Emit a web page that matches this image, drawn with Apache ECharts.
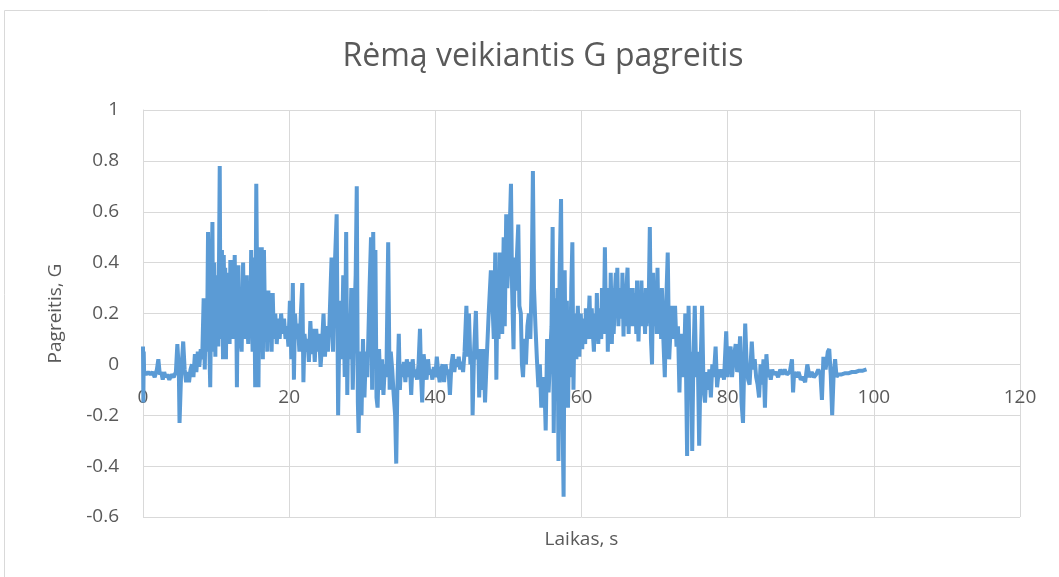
<!DOCTYPE html>
<html>
<head>
<meta charset="utf-8">
<script src="https://cdn.jsdelivr.net/npm/echarts@6/dist/echarts.min.js"></script>
<style>
  html, body { margin: 0; padding: 0; background: #fff; }
  #chart { width: 1059px; height: 577px; }
</style>
</head>
<body>
<div id="chart"></div>
<script>
const titleText = "Rėmą veikiantis G pagreitis";
const xName = "Laikas, s";
const yName = "Pagreitis, G";
const xRange = [0, 120, 20];
const yRange = [-0.6, 1, 0.2];

// [laikas s, pagreitis G]
const accel = [
  [0.0, 0.07], [0.05, -0.15], [0.1, 0.05], [0.15, -0.03], [0.4, -0.04], [0.7, -0.03], [1.0, -0.04],
  [1.3, -0.03], [1.6, -0.05], [1.9, -0.02], [2.1, 0.02], [2.3, -0.04], [2.5, -0.03], [2.7, -0.06],
  [2.9, -0.03], [3.1, -0.05], [3.3, -0.04], [3.6, -0.06], [3.9, -0.04], [4.2, -0.05], [4.5, -0.03],
  [4.7, 0.08], [4.9, -0.02], [5.0, -0.23], [5.2, -0.05], [5.5, 0.09], [5.7, -0.02], [5.9, -0.07],
  [6.1, -0.03], [6.3, -0.07], [6.5, -0.02], [6.7, 0.0], [6.9, -0.05], [7.1, 0.04], [7.3, -0.03],
  [7.5, 0.05], [7.7, -0.01], [7.9, 0.06], [8.1, 0.02], [8.3, 0.26], [8.45, -0.02], [8.6, 0.24],
  [8.75, 0.05], [8.9, 0.52], [9.05, 0.1], [9.2, -0.09], [9.35, 0.3], [9.5, 0.56], [9.6, 0.05],
  [9.75, 0.4], [9.9, 0.03], [10.0, 0.35], [10.1, 0.15], [10.2, 0.3], [10.3, 0.07], [10.4, 0.4],
  [10.5, 0.78], [10.6, 0.1], [10.7, 0.35], [10.8, 0.45], [10.9, 0.15], [10.95, 0.02], [11.05, 0.43],
  [11.15, 0.2], [11.25, 0.38], [11.35, 0.02], [11.45, 0.3], [11.55, 0.15], [11.65, 0.36], [11.75, 0.2],
  [11.85, 0.08], [11.95, 0.41], [12.05, 0.2], [12.15, 0.35], [12.25, 0.41], [12.35, 0.1], [12.45, 0.3],
  [12.55, 0.43], [12.65, 0.15], [12.75, 0.25], [12.85, -0.09], [12.95, 0.2], [13.05, 0.39], [13.15, 0.15],
  [13.25, 0.3], [13.35, 0.1], [13.5, 0.05], [13.6, 0.25], [13.7, 0.4], [13.8, 0.2], [13.9, 0.35],
  [14.0, 0.1], [14.1, 0.25], [14.2, 0.35], [14.3, 0.15], [14.4, 0.08], [14.5, 0.25], [14.6, 0.3],
  [14.7, 0.12], [14.8, 0.45], [14.9, 0.2], [15.0, 0.05], [15.1, 0.3], [15.2, 0.42],
  [15.35, -0.09], [15.5, 0.71], [15.65, 0.2], [15.8, -0.09], [15.95, 0.46], [16.1, 0.05], [16.25, 0.46],
  [16.4, 0.02], [16.55, 0.45], [16.7, 0.15], [16.85, 0.28], [17.0, 0.05], [17.15, 0.29], [17.3, 0.15],
  [17.45, 0.28], [17.6, 0.05], [17.75, 0.28], [17.9, 0.1], [18.1, 0.2], [18.3, 0.08], [18.5, 0.18],
  [18.7, 0.1], [18.9, 0.2], [19.1, 0.12], [19.3, 0.18], [19.5, 0.1], [19.7, 0.15], [19.9, 0.07],
  [20.1, 0.25], [20.3, 0.02], [20.5, 0.32], [20.65, -0.06], [20.8, 0.2], [21.0, 0.1], [21.2, 0.16],
  [21.4, 0.05], [21.6, 0.2], [21.8, 0.32], [21.95, -0.07], [22.1, 0.12], [22.3, 0.05], [22.5, 0.1],
  [22.7, 0.01], [22.9, 0.17], [23.1, 0.04], [23.3, 0.14], [23.5, 0.01], [23.7, 0.14], [23.9, 0.05],
  [24.1, 0.12], [24.3, -0.01], [24.5, 0.08], [24.7, 0.2], [24.9, 0.03], [25.1, 0.15], [25.3, 0.05],
  [25.5, 0.15], [25.8, 0.42], [26.0, 0.05], [26.2, 0.35], [26.5, 0.59], [26.7, -0.2], [26.85, 0.1],
  [27.0, 0.25], [27.2, 0.02], [27.4, 0.35], [27.6, -0.05], [27.8, 0.52], [27.95, -0.12], [28.1, 0.2],
  [28.3, 0.02], [28.5, 0.3], [28.7, -0.1], [28.9, 0.15], [29.1, 0.35], [29.25, 0.7], [29.4, -0.15],
  [29.5, -0.27], [29.7, 0.05], [29.9, -0.2], [30.1, 0.1], [30.3, -0.13], [30.5, 0.05], [30.7, -0.05],
  [31.0, 0.3], [31.2, 0.5], [31.35, -0.1], [31.5, 0.52], [31.65, 0.05], [31.8, 0.45], [31.95, -0.13],
  [32.1, -0.17], [32.3, 0.06], [32.5, -0.1], [32.7, 0.02], [32.9, -0.12], [33.1, 0.0], [33.3, -0.05],
  [33.55, 0.48], [33.75, -0.1], [33.9, 0.05], [34.1, -0.02], [34.3, -0.12], [34.5, -0.2], [34.65, -0.39],
  [34.8, -0.1], [35.0, 0.12], [35.15, -0.1], [35.3, 0.0], [35.5, -0.05], [35.7, 0.01], [35.9, -0.07],
  [36.1, 0.02], [36.3, -0.05], [36.5, 0.01], [36.7, -0.12], [36.9, 0.02], [37.1, -0.05], [37.3, -0.02],
  [37.5, -0.06], [37.7, 0.0], [37.9, 0.14], [38.05, -0.05], [38.2, -0.15], [38.4, 0.04], [38.6, -0.02],
  [38.8, -0.06], [39.0, 0.02], [39.2, -0.04], [39.4, -0.02], [39.6, -0.06], [39.8, -0.01], [40.0, -0.05],
  [40.2, 0.03], [40.4, -0.03], [40.6, -0.07], [40.8, -0.02], [41.0, 0.0], [41.2, -0.07], [41.4, 0.0],
  [41.6, -0.04], [41.8, -0.02], [42.0, -0.12], [42.2, 0.0], [42.4, 0.04], [42.6, -0.03], [42.8, 0.02],
  [43.0, -0.01], [43.2, 0.03], [43.4, -0.02], [43.6, 0.01], [43.8, -0.03], [44.0, 0.05], [44.25, 0.23],
  [44.45, 0.03], [44.6, 0.2], [44.8, 0.0], [45.0, 0.05], [45.1, -0.2], [45.3, 0.05], [45.55, 0.21],
  [45.7, 0.02], [45.9, 0.04], [46.0, -0.13], [46.2, 0.06], [46.4, -0.1], [46.6, 0.06], [46.8, -0.15],
  [47.0, 0.0], [47.3, 0.2], [47.6, 0.37], [47.8, 0.25], [48.0, 0.1], [48.2, 0.44], [48.35, -0.06],
  [48.5, 0.3], [48.65, 0.1], [48.8, 0.44], [49.0, 0.25], [49.15, 0.12], [49.35, 0.5], [49.5, 0.15],
  [49.7, 0.59], [49.85, 0.3], [50.1, 0.45], [50.35, 0.71], [50.5, 0.3], [50.7, 0.06], [50.85, 0.42],
  [51.0, 0.29], [51.2, 0.45], [51.35, 0.55], [51.5, 0.23], [51.7, 0.2], [51.85, 0.0], [52.0, -0.05],
  [52.2, 0.1], [52.4, 0.0], [52.6, 0.15], [52.8, 0.2], [53.0, 0.1], [53.2, 0.35], [53.35, 0.76],
  [53.5, 0.3], [53.7, 0.15], [53.9, 0.02], [54.1, -0.09], [54.3, 0.0], [54.5, -0.17], [54.7, -0.1],
  [54.9, -0.05], [55.1, -0.26], [55.3, 0.1], [55.5, -0.11], [55.7, 0.03], [55.9, 0.15], [56.05, 0.54],
  [56.2, -0.27], [56.4, 0.26], [56.55, 0.0], [56.7, 0.3], [56.85, -0.38], [57.0, 0.35], [57.2, 0.65],
  [57.4, -0.2], [57.55, -0.52], [57.7, 0.37], [57.85, -0.09], [58.0, 0.25], [58.15, -0.17], [58.3, 0.1],
  [58.45, -0.05], [58.6, 0.3], [58.75, 0.48], [58.9, -0.1], [59.0, 0.1], [59.1, 0.2], [59.2, 0.1],
  [59.3, 0.02], [59.4, 0.15], [59.5, 0.23], [59.6, 0.1], [59.7, 0.03], [59.8, 0.15], [59.9, 0.2],
  [60.0, 0.12], [60.1, 0.06], [60.2, 0.15], [60.3, 0.18], [60.4, 0.1], [60.5, 0.08], [60.6, 0.22],
  [60.7, 0.2], [60.8, 0.12], [60.9, 0.1], [61.0, 0.2], [61.1, 0.27], [61.2, 0.15], [61.3, 0.1],
  [61.4, 0.22], [61.5, 0.15], [61.6, 0.1], [61.7, 0.05], [61.8, 0.2], [61.9, 0.18], [62.0, 0.12],
  [62.1, 0.28], [62.2, 0.15], [62.3, 0.08], [62.4, 0.22], [62.5, 0.2], [62.6, 0.12], [62.7, 0.1],
  [62.8, 0.3], [62.9, 0.25], [63.05, 0.12], [63.2, 0.46], [63.3, 0.25], [63.4, 0.15], [63.5, 0.3],
  [63.6, 0.05], [63.7, 0.2], [63.8, 0.3], [63.9, 0.15], [64.0, 0.36], [64.1, 0.2], [64.15, 0.08],
  [64.3, 0.3], [64.4, 0.12], [64.5, 0.2], [64.6, 0.3], [64.7, 0.36], [64.8, 0.2], [64.9, 0.38],
  [65.05, 0.15], [65.15, 0.28], [65.25, 0.2], [65.4, 0.3], [65.5, 0.18], [65.6, 0.36], [65.75, 0.11],
  [65.85, 0.3], [65.95, 0.25], [66.05, 0.15], [66.15, 0.3], [66.3, 0.38], [66.45, 0.12], [66.55, 0.25],
  [66.65, 0.3], [66.75, 0.15], [66.9, 0.22], [67.0, 0.3], [67.1, 0.15], [67.2, 0.2], [67.3, 0.28],
  [67.4, 0.22], [67.5, 0.12], [67.6, 0.33], [67.7, 0.2], [67.8, 0.09], [67.9, 0.2], [68.0, 0.25],
  [68.1, 0.15], [68.2, 0.33], [68.3, 0.2], [68.4, 0.15], [68.5, 0.28], [68.6, 0.2], [68.7, 0.12],
  [68.8, 0.3], [68.9, 0.15], [69.0, 0.2], [69.1, 0.3], [69.2, 0.25],
  [69.35, 0.54], [69.5, 0.1], [69.65, 0.0], [69.8, 0.36], [70.0, 0.15], [70.1, 0.3], [70.2, 0.25],
  [70.3, 0.12], [70.4, 0.38], [70.5, 0.2], [70.6, 0.12], [70.7, 0.28], [70.8, 0.2], [70.9, 0.1],
  [71.0, 0.3], [71.1, 0.2], [71.2, 0.1], [71.4, -0.05], [71.6, 0.25],
  [71.8, 0.44], [72.0, 0.02], [72.2, 0.15], [72.4, 0.23], [72.6, 0.1], [72.8, 0.23], [73.0, 0.07],
  [73.2, 0.15], [73.4, -0.11], [73.6, 0.12], [73.8, 0.05], [74.0, -0.05], [74.2, 0.2], [74.45, -0.36],
  [74.65, 0.23], [74.85, -0.1], [75.0, 0.05], [75.15, -0.34], [75.3, 0.0], [75.5, 0.23], [75.7, -0.05],
  [75.9, 0.05], [76.1, -0.32], [76.3, 0.0], [76.5, 0.23], [76.7, -0.1], [76.9, -0.15], [77.1, -0.03],
  [77.3, -0.1], [77.5, -0.02], [77.7, -0.13], [77.9, 0.0], [78.1, -0.05], [78.35, 0.07], [78.55, -0.09],
  [78.8, -0.02], [79.0, -0.05], [79.3, -0.02], [79.5, -0.06], [79.8, 0.13], [80.0, -0.05], [80.2, 0.05],
  [80.4, 0.07], [80.6, -0.05], [80.8, 0.02], [81.1, 0.08], [81.3, -0.03], [81.5, 0.0], [81.7, 0.11],
  [81.9, -0.15], [82.1, -0.23], [82.3, 0.05], [82.4, 0.16], [82.6, 0.0], [82.8, -0.06], [83.0, -0.08],
  [83.3, 0.09], [83.5, -0.02], [83.7, 0.02], [83.9, -0.05], [84.1, -0.08], [84.3, -0.13], [84.5, 0.0],
  [84.7, -0.08], [84.9, 0.02], [85.1, -0.17], [85.3, 0.04], [85.5, -0.05], [85.7, -0.02], [85.9, -0.06],
  [86.1, -0.02], [86.3, -0.04], [86.6, -0.03], [86.9, -0.05], [87.2, -0.02], [87.5, -0.04], [87.8, -0.02],
  [88.1, -0.04], [88.5, -0.03], [88.8, 0.02], [88.95, -0.11], [89.1, -0.03], [89.4, -0.05], [89.7, -0.03],
  [90.0, -0.06], [90.3, -0.05], [90.6, -0.07], [90.9, 0.0], [91.2, -0.05], [91.5, -0.03], [91.8, -0.05],
  [92.1, -0.04], [92.4, -0.02], [92.7, -0.04], [92.9, -0.14], [93.1, 0.03], [93.4, -0.02], [93.7, 0.05],
  [93.9, 0.06], [94.1, -0.04], [94.3, -0.2], [94.5, -0.04], [94.7, 0.02], [94.9, -0.05], [95.1, -0.04],
  [95.5, -0.04], [96.0, -0.035], [96.5, -0.035], [97.0, -0.03], [97.5, -0.03], [98.0, -0.025],
  [98.5, -0.025], [99.0, -0.02]
];

const font = "'Open Sans', sans-serif";
const grey = "#595959";
const gridCol = "#D9D9D9";

const gridTop = 110, gridBottom = 60, chartH = 577;
const plotH = chartH - gridTop - gridBottom;
// x axis sits on the zero line, like in Excel
const zeroShift = plotH * (0 - yRange[0]) / (yRange[1] - yRange[0]);

const chart = echarts.init(document.getElementById("chart"), null, { renderer: "canvas" });
chart.setOption({
  animation: false,
  title: {
    text: titleText, left: 538, top: 36, textAlign: "center",
    textStyle: { fontFamily: font, fontSize: 32, fontWeight: "normal", color: grey },
  },
  graphic: [{
    type: "rect", silent: true, z: -10,
    shape: { x: 4.5, y: 10.5, width: 1100, height: 600 },
    style: { fill: "none", stroke: gridCol, lineWidth: 1 },
  }],
  grid: { left: 143, right: 39, top: gridTop, bottom: gridBottom, containLabel: false, outerBoundsMode: "none" },
  xAxis: {
    type: "value", min: xRange[0], max: xRange[1], interval: xRange[2],
    offset: -zeroShift,
    name: xName, nameLocation: "middle", nameGap: 166,
    nameTextStyle: { fontFamily: font, fontSize: 19, color: grey },
    axisLine: { onZero: false, lineStyle: { color: gridCol } },
    axisTick: { show: false },
    axisLabel: { margin: 24, fontFamily: font, fontSize: 19, color: grey },
    splitLine: { show: true, lineStyle: { color: gridCol } },
  },
  yAxis: {
    type: "value", min: yRange[0], max: yRange[1], interval: yRange[2],
    name: yName, nameLocation: "middle", nameGap: 78, nameRotate: 90,
    nameTextStyle: { fontFamily: font, fontSize: 19, color: grey },
    axisLine: { show: true, lineStyle: { color: gridCol } },
    axisTick: { show: false },
    axisLabel: {
      margin: 24, fontFamily: font, fontSize: 19, color: grey,
      formatter: v => String(+v.toFixed(1)),
    },
    splitLine: { show: true, lineStyle: { color: gridCol } },
  },
  series: [{
    type: "line", data: accel, showSymbol: false, smooth: false,
    lineStyle: { color: "#5B9BD5", width: 4 },
    itemStyle: { color: "#5B9BD5" },
  }],
});
</script>
</body>
</html>
